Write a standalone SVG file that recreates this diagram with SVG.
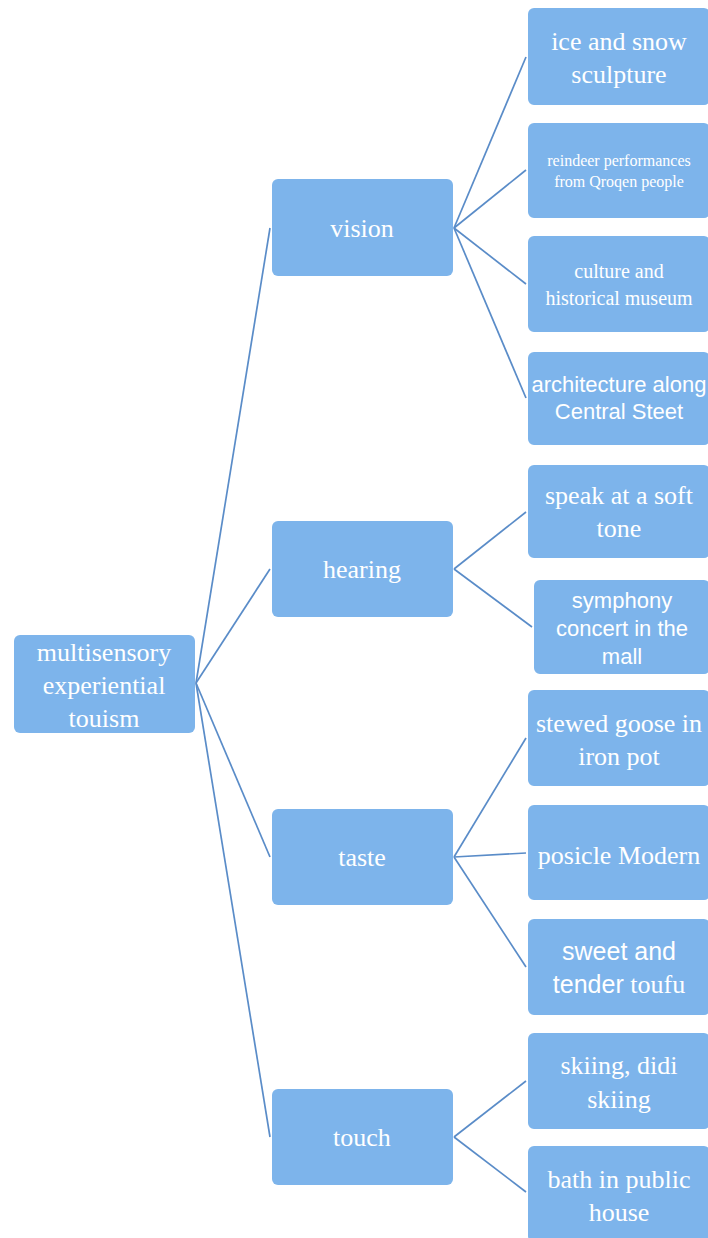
<svg xmlns="http://www.w3.org/2000/svg" width="708" height="1238" viewBox="0 0 708 1238">
<style>
.box{fill:#7DB4EB;}
.t{fill:#ffffff;font-family:"Liberation Serif","Times New Roman",serif;font-size:26px;text-anchor:middle;}
.a{font-family:"Liberation Sans",Arial,sans-serif;}
.c{stroke:#5A8CC8;stroke-width:1.7;fill:none;}
</style>
<rect width="708" height="1238" fill="#ffffff"/>
<g id="connectors" class="c">
<line x1="196" y1="683" x2="270" y2="228"/>
<line x1="196" y1="683" x2="270" y2="569"/>
<line x1="196" y1="683" x2="270" y2="857"/>
<line x1="196" y1="683" x2="270" y2="1137"/>
<line x1="454" y1="228" x2="526" y2="57"/>
<line x1="454" y1="228" x2="526" y2="170"/>
<line x1="454" y1="228" x2="526" y2="284"/>
<line x1="454" y1="228" x2="526" y2="398"/>
<line x1="454" y1="569" x2="526" y2="512"/>
<line x1="454" y1="569" x2="532" y2="627"/>
<line x1="454" y1="857" x2="526" y2="738"/>
<line x1="454" y1="857" x2="526" y2="853"/>
<line x1="454" y1="857" x2="526" y2="967"/>
<line x1="454" y1="1137" x2="526" y2="1081"/>
<line x1="454" y1="1137" x2="526" y2="1192"/>
</g>
<g id="root"><rect class="box" x="14" y="635" width="181" height="98" rx="6"/>
<text class="t" x="104" y="661">multisensory</text><text class="t" x="104" y="694">experiential</text><text class="t" x="104" y="727">touism</text></g>
<g id="vision"><rect class="box" x="272" y="179" width="181" height="97" rx="6"/><text class="t" x="362" y="237">vision</text></g>
<g id="hearing"><rect class="box" x="272" y="521" width="181" height="96" rx="6"/><text class="t" x="362" y="578">hearing</text></g>
<g id="taste"><rect class="box" x="272" y="809" width="181" height="96" rx="6"/><text class="t" x="362" y="866">taste</text></g>
<g id="touch"><rect class="box" x="272" y="1089" width="181" height="96" rx="6"/><text class="t" x="362" y="1146">touch</text></g>
<g id="ice"><rect class="box" x="528" y="8" width="182" height="97" rx="6"/><text class="t" x="619" y="50">ice and snow</text><text class="t" x="619" y="83">sculpture</text></g>
<g id="reindeer"><rect class="box" x="528" y="123" width="182" height="95" rx="6"/><text class="t" x="619" y="166" style="font-size:16px">reindeer performances</text><text class="t" x="619" y="187" style="font-size:16px">from Qroqen people</text></g>
<g id="culture"><rect class="box" x="528" y="236" width="182" height="96" rx="6"/><text class="t" x="619" y="278" style="font-size:20px">culture and</text><text class="t" x="619" y="305" style="font-size:20px">historical museum</text></g>
<g id="architecture"><rect class="box" x="528" y="352" width="182" height="93" rx="6"/><text class="t a" x="619" y="392" style="font-size:22px">architecture along</text><text class="t a" x="619" y="419" style="font-size:22px">Central Steet</text></g>
<g id="speak"><rect class="box" x="528" y="465" width="182" height="93" rx="6"/><text class="t" x="619" y="504">speak at a soft</text><text class="t" x="619" y="537">tone</text></g>
<g id="symphony"><rect class="box" x="534" y="580" width="176" height="94" rx="6"/><text class="t a" x="622" y="608" style="font-size:22px">symphony</text><text class="t a" x="622" y="636" style="font-size:22px">concert in the</text><text class="t a" x="622" y="664" style="font-size:22px">mall</text></g>
<g id="stewed"><rect class="box" x="528" y="690" width="182" height="96" rx="6"/><text class="t" x="619" y="732">stewed goose in</text><text class="t" x="619" y="765">iron pot</text></g>
<g id="posicle"><rect class="box" x="528" y="805" width="182" height="95" rx="6"/><text class="t" x="619" y="864">posicle Modern</text></g>
<g id="sweet"><rect class="box" x="528" y="919" width="182" height="96" rx="6"/><text class="t a" x="619" y="960" style="font-size:25px">sweet and</text><text class="t" x="619" y="993"><tspan class="a" style="font-size:25px">tender</tspan> toufu</text></g>
<g id="skiing"><rect class="box" x="528" y="1033" width="182" height="96" rx="6"/><text class="t" x="619" y="1074">skiing, didi</text><text class="t" x="619" y="1108">skiing</text></g>
<g id="bath"><rect class="box" x="528" y="1146" width="182" height="96" rx="6"/><text class="t" x="619" y="1188">bath in public</text><text class="t" x="619" y="1221">house</text></g>
</svg>
